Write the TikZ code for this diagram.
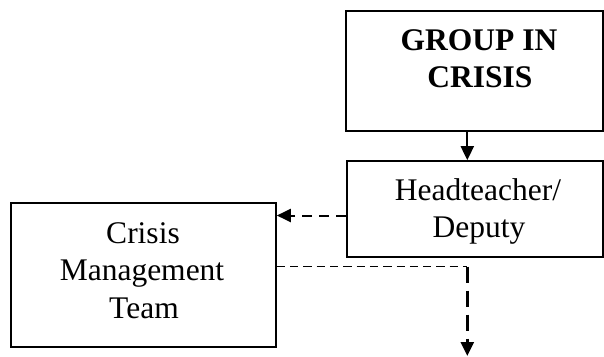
\documentclass[tikz,border=0pt]{standalone}
\usepackage{fontspec}
\setmainfont{Liberation Serif}
\usetikzlibrary{arrows.meta}
\begin{document}
\begin{tikzpicture}[x=1pt,y=-1pt,
  boxstyle/.style={draw,line width=1.6pt,rectangle,inner sep=0pt},
  txt/.style={anchor=base,inner sep=0pt,font=\fontsize{31.5}{37}\selectfont},
  btxt/.style={txt,font=\fontsize{31.5}{37}\selectfont\bfseries},
  tip/.style={-{Triangle[length=14pt,width=13pt]}},
  solidarrow/.style={tip,line width=2pt},
  dasharrow/.style={tip,line width=2pt,dash pattern=on 10pt off 7pt},
  thindash/.style={line width=1.4pt,dash pattern=on 8.3pt off 5pt},
  thickdash/.style={tip,line width=2.5pt,dash pattern=on 16pt off 8pt}]
\useasboundingbox (0,0) rectangle (604,356);
\node[boxstyle,minimum width=257pt,minimum height=120pt] (group) at (474.5,71) {};
\node[boxstyle,minimum width=256pt,minimum height=96pt] (head) at (475,209) {};
\node[boxstyle,minimum width=265pt,minimum height=144pt] (cmt) at (143.5,275) {};
\node[btxt] (g1) at (479,50.7) {GROUP IN};
\node[btxt] (g2) at (480,87.3) {CRISIS};
\node[txt] (h1) at (478,200.7) {Headteacher/};
\node[txt] (h2) at (479,237) {Deputy};
\node[txt] (c1) at (143,243) {Crisis};
\node[txt] (c2) at (142,280.7) {Management};
\node[txt] (c3) at (144,318) {Team};
\coordinate (corner) at (467.3,266.7);
\coordinate (endpt) at (467.3,356);
\draw[solidarrow] (group.south -| corner) -- (head.north -| corner);
\draw[dasharrow] (head.west |- 0,215.5) -- (cmt.east |- 0,215.5);
\draw[thindash] (cmt.east |- corner) -- (corner);
\draw[thickdash] (corner) -- (endpt);
\end{tikzpicture}
\end{document}
